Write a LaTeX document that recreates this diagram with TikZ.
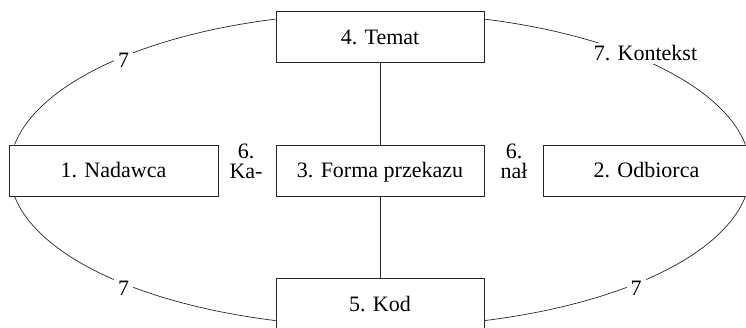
\documentclass[tikz,border=0pt]{standalone}
\usepackage{fontspec}
\setmainfont{Liberation Serif}
\begin{document}
\begin{tikzpicture}[x=1pt,y=-1pt,
  every node/.style={font=\fontsize{22}{20}\selectfont},
  boxnode/.style={draw=black!85, line width=0.8pt, minimum width=208pt, minimum height=51pt, inner sep=0pt, text height=15pt, text depth=0pt},
  conn/.style={draw=black!85, line width=0.7pt},
  lbl/.style={fill=white, inner sep=3pt},
  side/.style={align=center, inner sep=0pt}]
\useasboundingbox (0,0) rectangle (746,328);
% boxes
\node[boxnode] (tem) at (380,37) {4. Temat};
\node[boxnode, minimum width=209pt] (nad) at (113.5,170.5) {1. Nadawca};
\node[boxnode] (for) at (380,170.5) {3. Forma przekazu};
\node[boxnode, minimum width=209pt] (odb) at (647.5,170.5) {};
\node (odbt) at (646.5,170.5) [inner sep=0pt, text height=15pt, text depth=0pt] {2. Odbiorca};
\node[boxnode] (kod) at (380,303.5) {5. Kod};
% vertical connectors
\draw[conn] (tem.south) -- (for.north);
\draw[conn] (for.south) -- (kod.north);
% elliptic connectors
\draw[conn] ([xshift=6pt]nad.north west) .. controls +(23.2,-59.5) and +(-136.3,16.9) .. ([yshift=-8pt]tem.north west);
\draw[conn] ([yshift=-8pt]tem.north east) .. controls +(136.3,16.9) and +(-23.2,-59.5) .. ([xshift=-7pt]odb.north east);
\draw[conn] ([xshift=6pt]nad.south west) .. controls +(23.2,59.5) and +(-136.3,-16.9) .. ([yshift=-43pt]kod.north west);
\draw[conn] ([yshift=-43pt]kod.north east) .. controls +(136.3,-16.9) and +(-23.2,59.5) .. ([xshift=-7pt]odb.south east);
% labels on the ellipse
\node[lbl, inner xsep=4pt] (l1) at (123.5,60) {7};
\node[lbl] (l2) at (645.5,53.5) {7. Kontekst};
\node[lbl, inner xsep=4pt] (l3) at (123.5,288) {7};
\node[lbl, inner xsep=4pt] (l4) at (636,288) {7};
% channel labels
\node[side] (k1) at (246,161) {6.\\Ka-};
\node[side] (k2) at (514,161) {6.\\nał};
\end{tikzpicture}
\end{document}
